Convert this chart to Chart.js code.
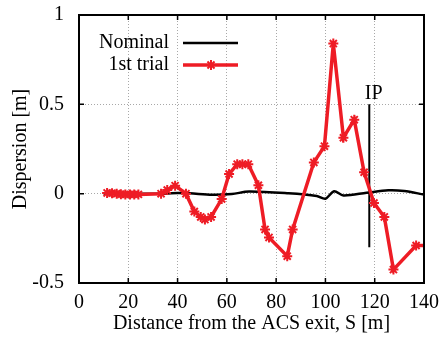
<!DOCTYPE html>
<html>
<head>
<meta charset="utf-8">
<script src="https://cdn.jsdelivr.net/npm/chart.js@4"></script>
<style>
  html, body { margin: 0; padding: 0; background: #fff; }
  #chart { display: block; }
</style>
</head>
<body>
<canvas id="chart" width="443" height="344"></canvas>
<script>
// axis ticks
const xTicks = [0, 20, 40, 60, 80, 100, 120, 140];
const yTicks = [-0.5, 0, 0.5, 1];

// 1st trial
const trialS = [11.4, 13.4, 15.3, 17.0, 18.8, 20.7, 22.4, 24.1, 33.3, 35.8, 39.0, 43.4,
  46.8, 49.4, 51.1, 53.6, 57.9, 60.9, 64.2, 66.3, 68.7, 72.8, 75.5, 77.1, 84.5, 86.7,
  95.3, 99.6, 103.2, 107.3, 111.7, 115.7, 119.7, 123.9, 127.6, 136.8, 140];
const trialDisp = [0.004, 0.003, 0.0, -0.003, -0.004, -0.004, -0.004, -0.004, 0.0, 0.02, 0.045, 0.0,
  -0.10, -0.13, -0.145, -0.13, -0.03, 0.11, 0.165, 0.165, 0.165, 0.047, -0.20, -0.245, -0.35, -0.20,
  0.175, 0.266, 0.84, 0.313, 0.414, 0.12, -0.052, -0.13, -0.425, -0.29, -0.29];

// nominal orbit
const nominalS = [10, 35, 40, 45, 54, 62, 69, 85, 96.5, 100, 103.5, 107.3, 116.7, 125.5, 132, 140];
const nominalDisp = [0, 0, 0.004, 0.002, -0.006, -0.002, 0.012, 0.002, -0.013, -0.028, 0.013, -0.01, 0.005, 0.019, 0.015, -0.005];

// interaction point marker
const ipS = [117.8, 117.8];
const ipDisp = [0.5, -0.3];
const ipLabel = 'IP';

const serif = '"Liberation Serif", "Times New Roman", serif';
const red = '#ee1c25';

const toXY = (xs, ys) => xs.map((x, i) => ({ x: x, y: ys[i] }));

// frame, inward ticks, legend and IP label
const decorations = {
  id: 'decorations',
  afterDraw(chart) {
    const { ctx, chartArea: a, scales: { x, y } } = chart;
    ctx.save();
    ctx.strokeStyle = '#000';
    ctx.lineWidth = 1.5;
    ctx.beginPath();
    xTicks.forEach(v => {
      const px = x.getPixelForValue(v);
      ctx.moveTo(px, a.bottom); ctx.lineTo(px, a.bottom - 5);
      ctx.moveTo(px, a.top); ctx.lineTo(px, a.top + 5);
    });
    yTicks.forEach(v => {
      const py = y.getPixelForValue(v);
      ctx.moveTo(a.left, py); ctx.lineTo(a.left + 5, py);
      ctx.moveTo(a.right, py); ctx.lineTo(a.right - 5, py);
    });
    ctx.stroke();
    ctx.lineWidth = 2;
    ctx.strokeRect(a.left, a.top, a.right - a.left, a.bottom - a.top);

    // IP label
    ctx.font = '20px ' + serif;
    ctx.fillStyle = '#000';
    ctx.textAlign = 'center';
    ctx.textBaseline = 'alphabetic';
    ctx.fillText(ipLabel, x.getPixelForValue(119.6), y.getPixelForValue(0.53));

    // legend
    ctx.textAlign = 'right';
    ctx.textBaseline = 'middle';
    const rows = [chart.data.datasets[1], chart.data.datasets[0]];
    rows.forEach((ds, i) => {
      const ly = 43 + i * 22;
      ctx.fillStyle = '#000';
      ctx.fillText(ds.label, 169, ly);
      ctx.strokeStyle = ds.borderColor;
      ctx.lineWidth = ds.borderWidth;
      ctx.beginPath();
      ctx.moveTo(183, ly); ctx.lineTo(238, ly);
      ctx.stroke();
      if (ds.pointStyle) {
        ctx.lineWidth = 2;
        const r = 5;
        ctx.beginPath();
        ctx.moveTo(211 - r, ly); ctx.lineTo(211 + r, ly);
        ctx.moveTo(211, ly - r); ctx.lineTo(211, ly + r);
        const d = r * Math.SQRT1_2;
        ctx.moveTo(211 - d, ly - d); ctx.lineTo(211 + d, ly + d);
        ctx.moveTo(211 - d, ly + d); ctx.lineTo(211 + d, ly - d);
        ctx.stroke();
      }
    });
    ctx.restore();
  }
};

new Chart(document.getElementById('chart'), {
  type: 'line',
  data: {
    datasets: [
      {
        label: '1st trial',
        data: toXY(trialS, trialDisp),
        borderColor: red,
        backgroundColor: red,
        borderWidth: 3.5,
        pointStyle: 'star',
        pointRadius: c => c.dataIndex === trialS.length - 1 ? 0 : 5,
        pointBorderWidth: 2,
        pointBorderColor: red,
        tension: 0
      },
      {
        label: 'Nominal',
        data: toXY(nominalS, nominalDisp),
        borderColor: '#000',
        borderWidth: 2.5,
        pointRadius: 0,
        tension: 0.3
      },
      {
        label: 'IP',
        data: toXY(ipS, ipDisp),
        borderColor: '#000',
        borderWidth: 2,
        pointRadius: 0
      }
    ]
  },
  options: {
    responsive: false,
    animation: false,
    layout: { padding: { left: 0, right: 19, top: 15, bottom: 0 } },
    plugins: { legend: { display: false }, tooltip: { enabled: false } },
    scales: {
      x: {
        type: 'linear',
        min: 0, max: 140,
        afterBuildTicks: s => { s.ticks = xTicks.map(v => ({ value: v })); },
        afterFit: s => { s.height = 61; s.paddingLeft = 0; s.paddingRight = 0; },
        grid: { color: '#a8a8a8', lineWidth: 1, drawTicks: false },
        border: { display: false, dash: [1, 2] },
        ticks: { color: '#000', padding: 8, maxRotation: 0, font: { family: serif, size: 20 } },
        title: {
          display: true, text: 'Distance from the ACS exit, S [m]', color: '#000',
          padding: { top: 0, bottom: 8 }, font: { family: serif, size: 20 }
        }
      },
      y: {
        type: 'linear',
        min: -0.5, max: 1,
        afterBuildTicks: s => { s.ticks = yTicks.map(v => ({ value: v })); },
        afterFit: s => { s.width = 79; s.paddingTop = 0; s.paddingBottom = 0; },
        grid: { color: '#a8a8a8', lineWidth: 1, drawTicks: false },
        border: { display: false, dash: [1, 2] },
        ticks: { color: '#000', padding: 15, font: { family: serif, size: 20 }, callback: v => String(v) },
        title: {
          display: true, text: 'Dispersion [m]', color: '#000',
          padding: { top: 9, bottom: 0 }, font: { family: serif, size: 20 }
        }
      }
    }
  },
  plugins: [decorations]
});
</script>
</body>
</html>
